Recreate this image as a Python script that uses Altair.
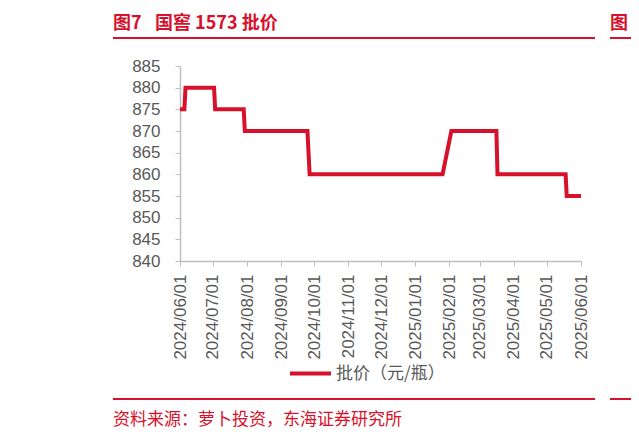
import altair as alt
import pandas as pd

# ---- data ----
dates = ["2024-06-01", "2024-06-05", "2024-06-06", "2024-07-02", "2024-07-03",
         "2024-07-29", "2024-07-30", "2024-09-25", "2024-09-27", "2025-01-26",
         "2025-02-03", "2025-03-16", "2025-03-17", "2025-05-18", "2025-05-19",
         "2025-06-01"]
prices = [875, 875, 880, 880, 875, 875, 870, 870, 860, 860, 870, 870, 860, 860, 855, 855]
series_name = "批价（元/瓶）"
tick_months = [(2024, m) for m in range(6, 13)] + [(2025, m) for m in range(1, 7)]
y_ticks = [840, 845, 850, 855, 860, 865, 870, 875, 880, 885]
title_num = "图7"
title_text = "国窖 1573 批价"
source_text = "资料来源：萝卜投资，东海证券研究所"

RED = "#d7102b"
GRAY_AX = "#bfbfbf"
GRAY_TXT = "#595959"
FONT = "Arial, 'Noto Sans CJK SC'"
CJK = "'Noto Sans CJK SC'"

df = pd.DataFrame({"date": dates, "price": prices, "series": [series_name] * len(dates)})

W, H = 401, 195

line = alt.Chart(df).mark_line(strokeWidth=4, strokeJoin="miter", interpolate="linear").encode(
    x=alt.X("date:T",
            scale=alt.Scale(type="utc", domain=[alt.DateTime(year=2024, month=6, date=1, utc=True),
                                                  alt.DateTime(year=2025, month=6, date=1, utc=True)],
                            nice=False),
            axis=alt.Axis(values=[alt.DateTime(year=y, month=m, date=1, utc=True) for y, m in tick_months],
                          format="%Y/%m/%d", labelAngle=270, labelAlign="right", labelBaseline="middle",
                          labelFontSize=17, labelColor=GRAY_TXT, labelFont=FONT, labelPadding=8,
                          tickColor=GRAY_AX, tickSize=5, domainColor=GRAY_AX, domainWidth=1.5,
                          grid=False, title=None, labelOverlap=False)),
    y=alt.Y("price:Q", scale=alt.Scale(domain=[840, 885], nice=False, zero=False),
            axis=alt.Axis(values=y_ticks, labelFontSize=17, labelColor=GRAY_TXT, labelFont=FONT,
                          labelPadding=15, tickColor=GRAY_AX, tickSize=5, domainColor=GRAY_AX,
                          domainWidth=1.5, grid=False, title=None)),
    color=alt.Color("series:N", scale=alt.Scale(range=[RED]),
                    legend=alt.Legend(title=None, orient="none", legendX=108, legendY=285,
                                      symbolType="stroke", symbolSize=1681, symbolStrokeWidth=4,
                                      labelFontSize=17, labelColor=GRAY_TXT, labelFont=CJK,
                                      labelOffset=3)),
)

def txt(s, x, y, size, weight="normal"):
    return alt.Chart(pd.DataFrame({"t": [s]})).mark_text(
        align="left", baseline="alphabetic", fontSize=size, fontWeight=weight, font=CJK, color=RED
    ).encode(x=alt.value(x), y=alt.value(y), text="t:N")

def hrule(x1, x2, y):
    return alt.Chart(pd.DataFrame({"a": [0]})).mark_rule(color=RED, strokeWidth=2).encode(
        x=alt.value(x1), x2=alt.value(x2), y=alt.value(y))

layers = [
    line,
    txt(title_num, -67, -37, 18, "bold"),
    txt(title_text, -25, -37, 18, "bold"),
    txt("图", 430, -37, 18, "bold"),
    hrule(-67, 415, -28),
    hrule(430, 470, -28),
    hrule(-67, 415, 333),
    hrule(430, 470, 333),
    txt(source_text, -67, 359, 17),
]

chart = alt.layer(*layers).properties(
    width=W, height=H,
    autosize=alt.AutoSizeParams(type="none"),
    padding={"left": 172, "top": 58, "right": 50, "bottom": 168},
).configure_view(stroke=None)

chart.save("out.html", embed_options={"renderer": "svg", "actions": False})
